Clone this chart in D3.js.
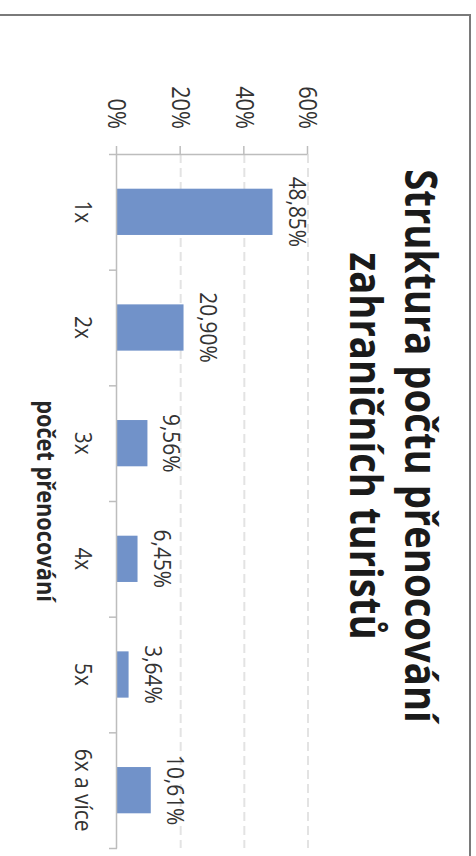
<!DOCTYPE html>
<html>
<head>
<meta charset="utf-8">
<script src="https://cdn.jsdelivr.net/npm/d3@7"></script>
<style>
  html, body { margin: 0; padding: 0; background: #fff; }
  svg { display: block; }
</style>
</head>
<body>
<svg id="chart"></svg>
<script>
// data
const categories = ["1x", "2x", "3x", "4x", "5x", "6x a více"];
const shares = [48.85, 20.90, 9.56, 6.45, 3.64, 10.61];
const shareLabels = ["48,85%", "20,90%", "9,56%", "6,45%", "3,64%", "10,61%"];
const yTicks = [0, 20, 40, 60];
const titleLines = ["Struktura počtu přenocování", "zahraničních turistů"];
const xTitle = "počet přenocování";

const W = 476, H = 856;
const k = 0.87; // text is squeezed along its reading direction in the source

const svg = d3.select("#chart").attr("width", W).attr("height", H);

// chart is drawn landscape and turned 90deg clockwise
const g = svg.append("g")
  .attr("transform", `translate(${W},0) rotate(90)`)
  .style("font-family", "'Open Sans', sans-serif");

// frame
g.append("rect")
  .attr("x", 15).attr("y", 6)
  .attr("width", 1000).attr("height", 600)
  .attr("fill", "none")
  .attr("stroke", "#7a7a7a")
  .attr("stroke-width", 2);

const x = d3.scaleBand()
  .domain(categories)
  .range([154, 848])
  .paddingInner(0.6)
  .paddingOuter(0.3);

const y = d3.scaleLinear()
  .domain([0, 60])
  .range([359, 168]);

// dashed grid
g.selectAll(".grid")
  .data(yTicks.filter(d => d > 0))
  .enter().append("line")
  .attr("x1", 154).attr("x2", 848)
  .attr("y1", d => y(d)).attr("y2", d => y(d))
  .attr("stroke", "#e3e3e3")
  .attr("stroke-width", 2)
  .attr("stroke-dasharray", "9,5");

// bars
g.selectAll(".bar")
  .data(shares)
  .enter().append("rect")
  .attr("x", (d, i) => x(categories[i]))
  .attr("y", d => y(d))
  .attr("width", x.bandwidth())
  .attr("height", d => y(0) - y(d))
  .attr("fill", "#7192c9");

// value axis
const yAxis = g.append("g")
  .attr("transform", `translate(${x.range()[0]},0)`)
  .call(d3.axisLeft(y).tickValues(yTicks).tickSize(8).tickSizeOuter(0)
    .tickFormat(d => d + "%"));
yAxis.selectAll("line, path").attr("stroke", "#bdbdbd").attr("stroke-width", 1.5);
yAxis.selectAll("text")
  .attr("x", null)
  .attr("transform", `translate(-25,0) scale(${k},1)`)
  .attr("fill", "#333")
  .style("font-size", "25px")
  .style("font-family", "'Open Sans', sans-serif");

// category axis with ticks between categories
const edges = d3.scaleLinear().domain([0, categories.length]).range(x.range());
const xAxis = g.append("g")
  .attr("transform", `translate(0,${y(0)})`)
  .call(d3.axisBottom(edges).tickValues(d3.range(categories.length + 1))
    .tickSize(8).tickSizeOuter(0).tickFormat(""));
xAxis.selectAll("line, path").attr("stroke", "#bdbdbd").attr("stroke-width", 1.5);

g.selectAll(".cat")
  .data(categories)
  .enter().append("text")
  .attr("transform", d => `translate(${x(d) + x.bandwidth() / 2},401) scale(${k},1)`)
  .attr("text-anchor", "middle")
  .attr("fill", "#333")
  .style("font-size", "24px")
  .text(d => d);

// data labels
g.selectAll(".lbl")
  .data(shares)
  .enter().append("text")
  .attr("transform", (d, i) => `translate(${x(categories[i]) + x.bandwidth() / 2},${y(d) - 16}) scale(${k},1)`)
  .attr("text-anchor", "middle")
  .attr("fill", "#333")
  .style("font-size", "24px")
  .text((d, i) => shareLabels[i]);

// axis title
g.append("text")
  .attr("transform", `translate(${(x.range()[0] + x.range()[1]) / 2},439) scale(${k},1)`)
  .attr("text-anchor", "middle")
  .attr("fill", "#262626")
  .style("font-size", "25px")
  .style("font-weight", "bold")
  .text(xTitle);

// title
g.selectAll(".title")
  .data(titleLines)
  .enter().append("text")
  .attr("transform", (d, i) => `translate(446,${71 + i * 55}) scale(${k},1)`)
  .attr("text-anchor", "middle")
  .attr("fill", "#1a1a1a")
  .style("font-size", "44px")
  .style("font-weight", "bold")
  .text(d => d);
</script>
</body>
</html>
